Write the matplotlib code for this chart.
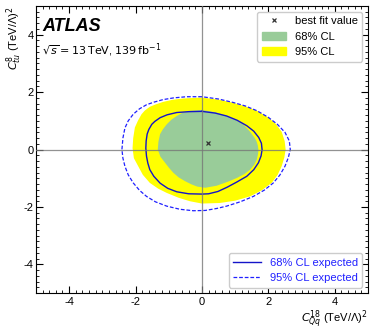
import numpy as np
import matplotlib.pyplot as plt
from matplotlib.ticker import MultipleLocator
from matplotlib.patches import Patch
from matplotlib.lines import Line2D

plt.rcParams['font.family'] = ['Liberation Sans', 'DejaVu Sans']
plt.rcParams['axes.unicode_minus'] = False

# Contour boundaries (C_Qq^18, C_tu^8)
cl95_x = [0.00, -0.56, -0.90, -1.17, -1.40, -1.57, -1.72, -1.82, -1.93, -2.02, -2.07, -2.09,
          -2.05, -1.92, -1.78, -1.57, -1.32, -1.06, -0.70, -0.36, 0.00, 0.54, 1.00, 1.45,
          1.80, 2.10, 2.28, 2.40, 2.48, 2.52, 2.49, 2.40, 2.22, 1.97, 1.66, 1.30, 0.94, 0.50, 0.00]
cl95_y = [1.81, 1.78, 1.73, 1.66, 1.57, 1.49, 1.36, 1.23, 1.00, 0.77, 0.40, 0.05,
          -0.30, -0.58, -0.88, -1.16, -1.36, -1.51, -1.68, -1.80, -1.88, -1.86, -1.78, -1.63,
          -1.42, -1.16, -0.88, -0.58, -0.28, 0.00, 0.30, 0.62, 0.90, 1.14, 1.35, 1.51, 1.63, 1.74, 1.81]

cl68_x = [0.00, -0.36, -0.60, -0.76, -0.92, -1.06, -1.18, -1.26, -1.31, -1.33, -1.25, -1.11,
          -0.99, -0.86, -0.70, -0.51, -0.32, -0.14, 0.10, 0.44, 0.78, 1.05, 1.28, 1.45,
          1.58, 1.65, 1.69, 1.70, 1.68, 1.64, 1.58, 1.45, 1.24, 1.00, 0.74, 0.40, 0.00]
cl68_y = [1.38, 1.35, 1.27, 1.17, 1.04, 0.88, 0.70, 0.54, 0.28, 0.00, -0.25, -0.46,
          -0.64, -0.81, -0.97, -1.10, -1.21, -1.29, -1.33, -1.26, -1.12, -0.99, -0.85, -0.70,
          -0.52, -0.35, -0.15, 0.00, 0.15, 0.30, 0.42, 0.62, 0.88, 1.05, 1.17, 1.30, 1.38]

exp68_x = [0.00, -0.40, -0.76, -1.05, -1.26, -1.42, -1.51, -1.60, -1.65, -1.68, -1.69, -1.67,
           -1.63, -1.57, -1.45, -1.26, -1.03, -0.76, -0.40, 0.00, 0.20, 0.48, 0.76, 1.05,
           1.35, 1.56, 1.70, 1.78, 1.81, 1.79, 1.71, 1.56, 1.35, 1.06, 0.74, 0.40, 0.00]
exp68_y = [1.33, 1.32, 1.29, 1.21, 1.11, 0.98, 0.88, 0.70, 0.54, 0.30, 0.05, -0.23,
           -0.47, -0.70, -0.93, -1.17, -1.35, -1.47, -1.54, -1.55, -1.54, -1.46, -1.31, -1.13,
           -0.93, -0.70, -0.46, -0.22, 0.00, 0.22, 0.42, 0.64, 0.83, 1.02, 1.17, 1.27, 1.33]

exp95_x = [0.00, -0.46, -0.85, -1.17, -1.45, -1.67, -1.88, -2.07, -2.22, -2.32, -2.38, -2.41,
           -2.38, -2.32, -2.22, -2.07, -1.88, -1.67, -1.40, -1.06, -0.66, -0.26, 0.10, 0.45,
           0.74, 1.15, 1.55, 1.88, 2.15, 2.35, 2.50, 2.60, 2.66, 2.63, 2.50, 2.27, 2.00, 1.66,
           1.30, 0.94, 0.50, 0.00]
exp95_y = [1.84, 1.84, 1.80, 1.74, 1.65, 1.56, 1.42, 1.23, 1.00, 0.75, 0.40, 0.00,
           -0.30, -0.58, -0.88, -1.16, -1.42, -1.63, -1.82, -1.97, -2.08, -2.13, -2.12, -2.05,
           -1.97, -1.82, -1.63, -1.41, -1.16, -0.88, -0.58, -0.28, 0.00, 0.30, 0.60, 0.88, 1.12, 1.35,
           1.52, 1.64, 1.76, 1.84]

best_fit = (0.19, 0.23)

fig, ax = plt.subplots(figsize=(3.74, 3.32), dpi=100)
fig.subplots_adjust(left=0.096, right=0.984, bottom=0.117, top=0.982)

ax.fill(cl95_x, cl95_y, color='#ffff00', lw=0, zorder=2)
ax.fill(cl68_x, cl68_y, color='#99cc99', lw=0, zorder=3)
ax.plot(exp68_x, exp68_y, color='#1414c8', lw=1.0, zorder=4)
ax.plot(exp95_x, exp95_y, color='#2020ff', lw=0.9, ls=(0, (3, 1.5)), zorder=4)

# grey axis lines through the origin, above the fills
ax.axhline(0, color='#777777', lw=0.9, alpha=0.8, zorder=4.5)
ax.axvline(0, color='#777777', lw=0.9, alpha=0.8, zorder=4.5)

ax.plot(*best_fit, 'x', color='#333333', ms=3.5, mew=0.9, zorder=5)

ax.set_xlim(-5, 5)
ax.set_ylim(-5, 5)
ax.xaxis.set_major_locator(MultipleLocator(2))
ax.yaxis.set_major_locator(MultipleLocator(2))
ax.xaxis.set_minor_locator(MultipleLocator(0.2))
ax.yaxis.set_minor_locator(MultipleLocator(0.2))
ax.tick_params(which='both', direction='in', top=True, right=True, labelsize=8)
ax.tick_params(which='major', length=5, width=0.8)
ax.tick_params(which='minor', length=2.5, width=0.6)
ax.tick_params(axis='x', which='major', pad=3)
ax.tick_params(axis='y', which='major', pad=1.5)

ax.set_xlabel(r'$C_{Qq}^{18}$ (TeV/Λ)$^2$', fontsize=8, loc='right', labelpad=1)
ax.set_ylabel(r'$C_{tu}^{8}$ (TeV/Λ)$^2$', fontsize=8, loc='top', labelpad=0)

ax.text(0.018, 0.958, 'ATLAS', transform=ax.transAxes, fontsize=13,
        fontweight='bold', fontstyle='italic', va='top')
ax.text(0.018, 0.878, r'$\sqrt{s}=13\,\mathrm{TeV}$, $139\,\mathrm{fb}^{-1}$',
        transform=ax.transAxes, fontsize=8, va='top')

h1 = [Line2D([], [], marker='x', color='#333333', ls='none', ms=3.5, mew=0.9),
      Patch(color='#99cc99'), Patch(color='#ffff00')]
leg1 = ax.legend(h1, ['best fit value', '68% CL', '95% CL'], loc='upper right',
                 fontsize=8, handlelength=2.2, framealpha=1, borderaxespad=0.5)
ax.add_artist(leg1)

h2 = [Line2D([], [], color='#1414c8', lw=1.0),
      Line2D([], [], color='#2020ff', lw=0.9, ls=(0, (3, 1.5)))]
leg2 = ax.legend(h2, ['68% CL expected', '95% CL expected'], loc='lower right',
                 fontsize=8, handlelength=2.5, framealpha=1, labelcolor='#2020ff',
                 borderaxespad=0.5)

fig.savefig('out.png', dpi=100)
